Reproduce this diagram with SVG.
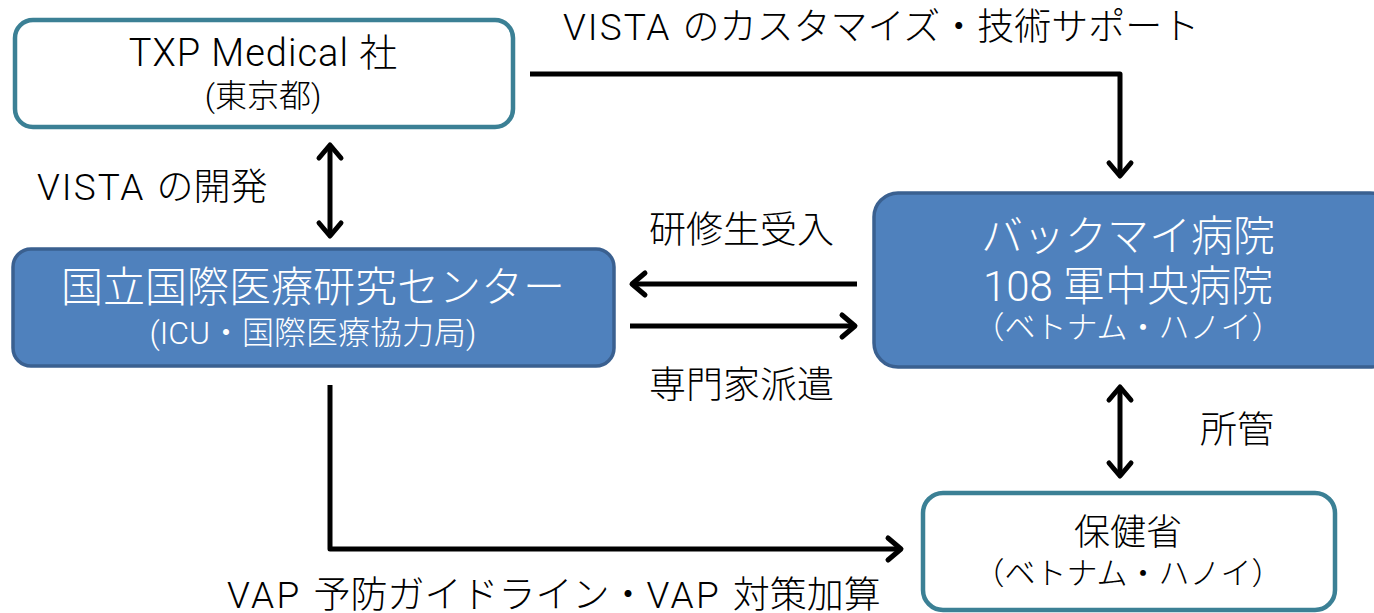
<svg xmlns="http://www.w3.org/2000/svg" width="1374" height="613" viewBox="0 0 1374 613">
<style>
text{font-family:Roboto,"Noto Sans CJK JP",sans-serif;font-weight:300;text-anchor:middle}
.lbl{font-size:37px;fill:#000;text-anchor:start}
.ls{letter-spacing:2px}
.wbox{fill:#fff;stroke:#3B8095;stroke-width:4.5}
.bbox{fill:#4F81BD;stroke:#3A6090;stroke-width:3.5}
.dk{fill:#000}
.wt{fill:#fff}
.con{fill:none;stroke:#000;stroke-width:5;stroke-linejoin:round}
</style>
<defs>
<marker id="ah" markerUnits="userSpaceOnUse" viewBox="-20 -14 24 28" markerWidth="24" markerHeight="28" refX="0" refY="0" orient="auto-start-reverse" overflow="visible">
<path d="M -13 -11 L 0 0 L -13 11" fill="none" stroke="#000" stroke-width="5" stroke-linecap="round" stroke-linejoin="round"/>
</marker>
</defs>
<g id="txp">
<rect class="wbox" x="15" y="20" width="498" height="107" rx="18"/>
<text class="dk" x="263" y="66" font-size="38"><tspan letter-spacing="1">TXP Medical </tspan>社</text>
<text class="dk" x="263" y="107" font-size="32">(東京都)</text>
</g>
<g id="ncgm">
<rect class="bbox" x="13" y="249" width="601" height="117" rx="18"/>
<text class="wt" x="313" y="302" font-size="42">国立国際医療研究センター</text>
<text class="wt" x="313" y="344" font-size="32">(ICU・国際医療協力局)</text>
</g>
<g id="bachmai">
<rect class="bbox" x="874" y="193" width="520" height="174" rx="24"/>
<text class="wt" x="1128" y="251" font-size="42">バックマイ病院</text>
<text class="wt" x="1128" y="301" font-size="42">108 軍中央病院</text>
<text class="wt" x="1128" y="338" font-size="31">（ベトナム・ハノイ）</text>
</g>
<g id="moh">
<rect class="wbox" x="923" y="493" width="412" height="117" rx="20"/>
<text class="dk" x="1128" y="545" font-size="36">保健省</text>
<text class="dk" x="1128" y="584" font-size="31">（ベトナム・ハノイ）</text>
</g>
<g id="connectors">
<polyline class="con" points="530,74 1120,74 1120,176" marker-end="url(#ah)"/>
<line class="con" x1="330" y1="145" x2="330" y2="236" marker-start="url(#ah)" marker-end="url(#ah)"/>
<line class="con" x1="857" y1="284" x2="632" y2="284" marker-end="url(#ah)"/>
<line class="con" x1="630" y1="326" x2="855" y2="326" marker-end="url(#ah)"/>
<polyline class="con" points="330,385 330,549 901,549" marker-end="url(#ah)"/>
<line class="con" x1="1120" y1="387" x2="1120" y2="476" marker-start="url(#ah)" marker-end="url(#ah)"/>
</g>
<g id="labels">
<text class="lbl" x="563" y="40"><tspan class="ls">VISTA </tspan>のカスタマイズ・技術サポート</text>
<text class="lbl" x="37" y="200"><tspan class="ls">VISTA </tspan>の開発</text>
<text class="lbl" x="649" y="243">研修生受入</text>
<text class="lbl" x="649" y="398">専門家派遣</text>
<text class="lbl" x="1200" y="443">所管</text>
<text class="lbl" x="227" y="608"><tspan letter-spacing="2.5">VAP </tspan>予防ガイドライン・<tspan letter-spacing="2.5">VAP </tspan>対策加算</text>
</g>
</svg>
